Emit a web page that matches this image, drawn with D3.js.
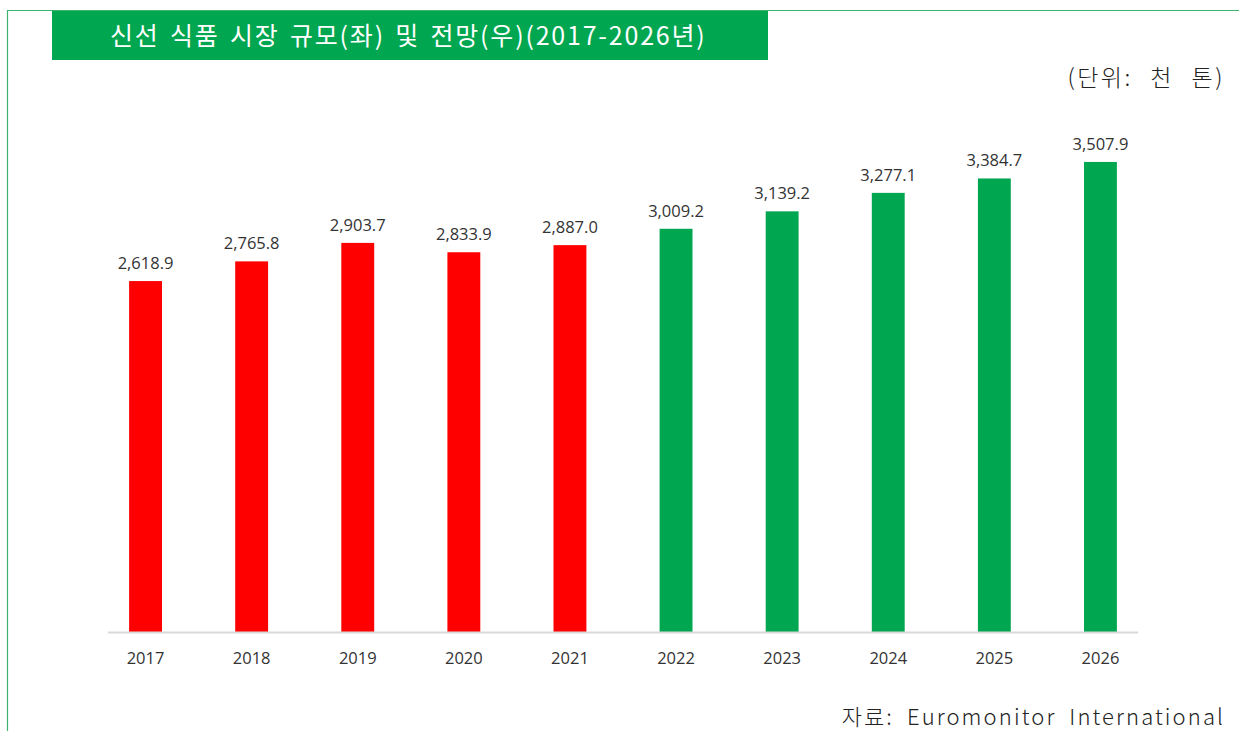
<!DOCTYPE html>
<html>
<head>
<meta charset="utf-8">
<script src="https://cdn.jsdelivr.net/npm/d3@7"></script>
<style>
  body { margin: 0; background: #fff; }
  svg { display: block; }
</style>
</head>
<body>
<div id="chart"></div>
<script>
// data
const years = ["2017", "2018", "2019", "2020", "2021", "2022", "2023", "2024", "2025", "2026"];
const values = [2618.9, 2765.8, 2903.7, 2833.9, 2887.0, 3009.2, 3139.2, 3277.1, 3384.7, 3507.9];
const forecastFrom = "2022";

const W = 1239, H = 731;
const green = "#00A650", red = "#FF0000";

const svg = d3.select("#chart").append("svg")
    .attr("width", W)
    .attr("height", H);

// frame lines (top + left)
svg.append("path")
    .attr("d", `M7.5,${H} V10.5 H${W}`)
    .attr("fill", "none")
    .attr("stroke", "#3cb371")
    .attr("stroke-width", 1.2);

// title box
svg.append("rect")
    .attr("x", 52).attr("y", 11)
    .attr("width", 716).attr("height", 49)
    .attr("fill", green);

svg.append("text")
    .attr("x", 110).attr("y", 45)
    .attr("fill", "#fff")
    .style("font-family", "'Noto Sans CJK KR', sans-serif")
    .style("font-size", "25px")
    .style("font-weight", 400)
    .style("letter-spacing", "1.8px")
    .style("word-spacing", "3px")
    .text("신선 식품 시장 규모(좌) 및 전망(우)(2017-2026년)");

// unit
svg.append("text")
    .attr("x", 1225).attr("y", 86)
    .attr("text-anchor", "end")
    .attr("fill", "#222")
    .style("font-family", "'Noto Sans CJK KR', sans-serif")
    .style("font-size", "23px")
    .style("font-weight", 300)
    .style("letter-spacing", "2.5px")
    .style("word-spacing", "10px")
    .text("(단위: 천 톤)");

// source
svg.append("text")
    .attr("x", 1225).attr("y", 725)
    .attr("text-anchor", "end")
    .attr("fill", "#222")
    .style("font-family", "'Noto Sans CJK KR', sans-serif")
    .style("font-size", "22px")
    .style("font-weight", 300)
    .style("letter-spacing", "2.1px")
    .style("word-spacing", "6px")
    .text("자료: Euromonitor International");

// scales
const x = d3.scaleBand()
    .domain(years)
    .range([92.5, 1153.5])
    .paddingInner(0.69)
    .paddingOuter(0.345);

const y = d3.scaleLinear()
    .domain([0, 4000])
    .range([632, 96]);

const data = years.map((d, i) => ({year: d, value: values[i]}));

// bars
svg.append("g").selectAll("rect")
    .data(data)
    .enter().append("rect")
    .attr("x", d => x(d.year))
    .attr("y", d => y(d.value))
    .attr("width", x.bandwidth())
    .attr("height", d => y(0) - y(d.value))
    .attr("fill", d => d.year >= forecastFrom ? green : red);

// x axis
const xAxis = d3.axisBottom(x).tickSize(0).tickPadding(20);
const gx = svg.append("g")
    .attr("transform", `translate(0,${y(0)})`)
    .call(xAxis);
gx.select(".domain")
    .attr("d", "M108,0.5H1138")
    .attr("stroke", "#d9d9d9")
    .attr("stroke-width", 2);
gx.selectAll("text")
    .attr("fill", "#333")
    .style("font-family", "'Open Sans', sans-serif")
    .style("font-size", "16.5px");

// value labels
const fmt = d3.format(",.1f");
svg.append("g").selectAll("text")
    .data(data)
    .enter().append("text")
    .attr("x", d => x(d.year) + x.bandwidth() / 2)
    .attr("y", d => y(d.value) - 12)
    .attr("text-anchor", "middle")
    .attr("fill", "#333")
    .style("font-family", "'Open Sans', sans-serif")
    .style("font-size", "16.5px")
    .text(d => fmt(d.value));
</script>
</body>
</html>
